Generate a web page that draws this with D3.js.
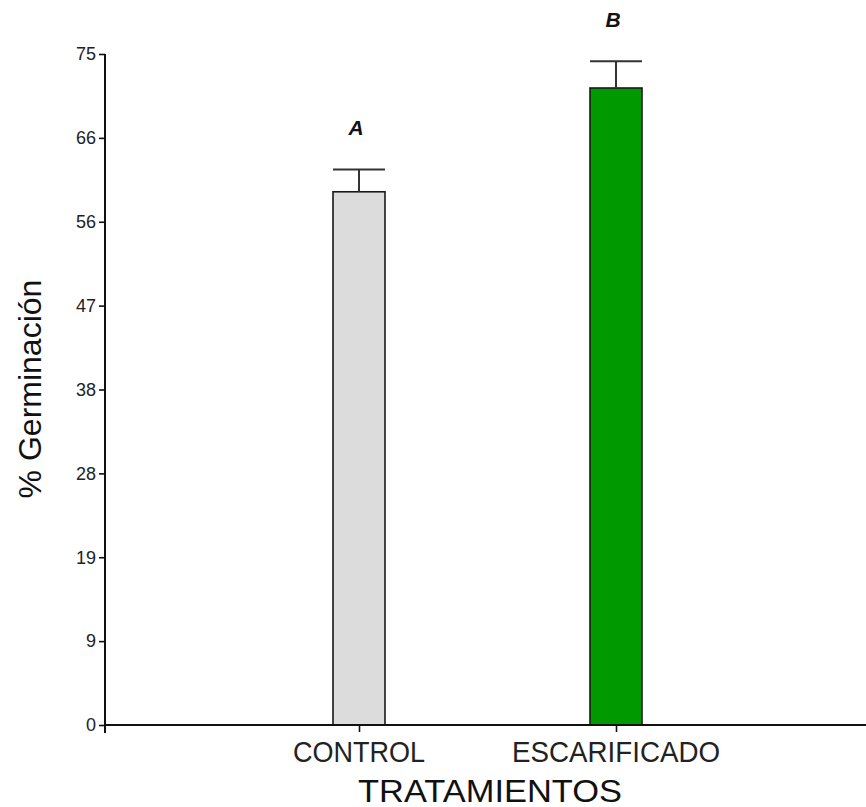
<!DOCTYPE html>
<html>
<head>
<meta charset="utf-8">
<script src="https://cdn.jsdelivr.net/npm/d3@7"></script>
<style>
  html, body { margin: 0; padding: 0; background: #fff; }
  svg { display: block; font-family: "Liberation Sans", Arial, sans-serif; }
</style>
</head>
<body>
<svg id="chart" width="866" height="807"></svg>
<script>
// Germination percentage by treatment
const categories = ["CONTROL", "ESCARIFICADO"];
const means = [59.6, 71.2];
const errors = [2.5, 3.0];
const groupLetters = ["A", "B"];
const barColors = ["#dcdcdc", "#009a00"];
const tickValues = [0, 9.375, 18.75, 28.125, 37.5, 46.875, 56.25, 65.625, 75];
const tickLabels = ["0", "9", "19", "28", "38", "47", "56", "66", "75"];

const svg = d3.select("#chart");

const x = d3.scalePoint().domain(categories).range([359, 616]);
const y = d3.scaleLinear().domain([0, 75]).range([725, 54]);
const barW = 52;
const axisLeft = 105, axisRight = 866;

// Bars
svg.selectAll("rect.bar")
  .data(categories)
  .join("rect")
  .attr("class", "bar")
  .attr("x", d => x(d) - barW / 2)
  .attr("width", barW)
  .attr("y", (d, i) => y(means[i]))
  .attr("height", (d, i) => y(0) - y(means[i]))
  .attr("fill", (d, i) => barColors[i])
  .attr("stroke", "#1a1a1a")
  .attr("stroke-width", 1.6);

// Error bars (upper whisker only)
const err = svg.append("g").attr("stroke", "#333").attr("stroke-width", 2);
categories.forEach((c, i) => {
  err.append("line")
    .attr("x1", x(c)).attr("x2", x(c))
    .attr("y1", y(means[i])).attr("y2", y(means[i] + errors[i]));
  err.append("line")
    .attr("x1", x(c) - barW / 2).attr("x2", x(c) + barW / 2)
    .attr("y1", y(means[i] + errors[i])).attr("y2", y(means[i] + errors[i]));
});

// Significance letters
svg.selectAll("text.letter")
  .data(categories)
  .join("text")
  .attr("class", "letter")
  .attr("x", d => x(d) - 3)
  .attr("y", (d, i) => y(means[i] + errors[i]) - 34)
  .attr("text-anchor", "middle")
  .attr("font-size", 21)
  .attr("font-weight", "bold")
  .attr("font-style", "italic")
  .attr("fill", "#111")
  .text((d, i) => groupLetters[i]);

// Y axis
const yAxis = d3.axisLeft(y)
  .tickValues(tickValues)
  .tickFormat((d, i) => tickLabels[i])
  .tickSize(6)
  .tickPadding(3)
  .tickSizeOuter(0);
const gy = svg.append("g").attr("transform", `translate(${axisLeft},0)`).call(yAxis);
gy.select(".domain").remove();
gy.selectAll(".tick line").attr("stroke", "#111").attr("stroke-width", 1.6);
gy.selectAll(".tick text").attr("font-size", 18).attr("fill", "#222")
  .attr("font-family", "'Liberation Sans', Arial, sans-serif");
svg.append("line")
  .attr("x1", axisLeft).attr("x2", axisLeft)
  .attr("y1", y(75)).attr("y2", y(0) + 8)
  .attr("stroke", "#111").attr("stroke-width", 2);

// X axis
const xAxis = d3.axisBottom(x).tickSize(7).tickFormat("").tickSizeOuter(0);
const gx = svg.append("g").attr("transform", `translate(0,${y(0)})`).call(xAxis);
gx.select(".domain").remove();
gx.selectAll(".tick line").attr("stroke", "#111").attr("stroke-width", 1.6);
svg.append("line")
  .attr("x1", axisLeft).attr("x2", axisRight)
  .attr("y1", y(0)).attr("y2", y(0))
  .attr("stroke", "#111").attr("stroke-width", 2);

// Category labels
const catWidths = [132, 208];
svg.selectAll("text.cat")
  .data(categories)
  .join("text")
  .attr("class", "cat")
  .attr("x", (d, i) => x(d) - catWidths[i] / 2)
  .attr("y", 762)
  .attr("font-size", 29)
  .attr("fill", "#222")
  .attr("textLength", (d, i) => catWidths[i])
  .attr("lengthAdjust", "spacingAndGlyphs")
  .text(d => d);

// Axis titles
svg.append("text")
  .attr("x", 358).attr("y", 802)
  .attr("font-size", 32)
  .attr("fill", "#111")
  .attr("textLength", 264)
  .attr("lengthAdjust", "spacingAndGlyphs")
  .text("TRATAMIENTOS");

svg.append("text")
  .attr("transform", "translate(41,389) rotate(-90)")
  .attr("text-anchor", "middle")
  .attr("font-size", 32)
  .attr("fill", "#111")
  .text("% Germinación");
</script>
</body>
</html>
